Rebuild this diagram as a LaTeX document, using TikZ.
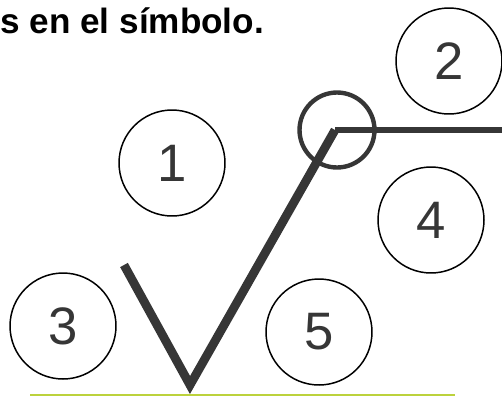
\documentclass[tikz,border=0pt]{standalone}
\usepackage{fontspec}
\setmainfont{Liberation Sans}
\usetikzlibrary{positioning}
\definecolor{ink}{HTML}{363636}
\definecolor{rulecol}{HTML}{BCD23C}

\begin{document}
\begin{tikzpicture}[x=0.02cm, y=-0.02cm,
  num/.style={circle, draw, line width=0.85pt, minimum size=2.12cm, inner sep=0pt,
    text=ink, font=\fontsize{30}{30}\selectfont},
  strokeV/.style={draw=ink, line width=5pt, miter limit=20}]
  \useasboundingbox (0,0) rectangle (502,396);
  \node[anchor=base west, inner sep=0pt, font=\bfseries\fontsize{20}{20}\selectfont] (title) at (0,33) {s en el símbolo.};
  \node[num] (n1) at (172,163) {1};
  \node[num] (n2) at (449,61)  {2};
  \node[num] (n3) at (63,326)  {3};
  \node[num] (n4) at (431,220) {4};
  \node[num] (n5) at (319,332) {5};
  % the check mark
  \coordinate (tip)  at (124,265);
  \coordinate (root) at (190,385);
  \coordinate (bend) at (335,130);
  \coordinate (tail) at (502,130);
  \draw[strokeV] (tip) -- (root) -- (bend);
  \draw[ink, line width=3pt] (bend) -- (tail);
  \node[circle, draw=ink, line width=2.5pt, minimum size=1.5cm] (joint) at (337,130) {};
  \draw[rulecol, line width=1.2pt] (30,395) -- (455,395);
\end{tikzpicture}
\end{document}
